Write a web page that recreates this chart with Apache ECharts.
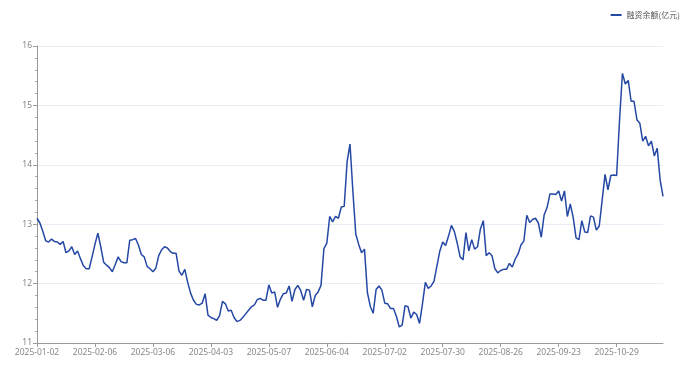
<!DOCTYPE html>
<html>
<head>
<meta charset="utf-8">
<script src="https://cdn.jsdelivr.net/npm/echarts@6/dist/echarts.min.js"></script>
<style>
html,body{margin:0;padding:0;background:#fff;}
#chart{width:691px;height:370px;}
</style>
</head>
<body>
<div id="chart"></div>
<script>
// Market-closed days and extra dates present in the source series
const holidays = ['2025-01-01','2025-01-28','2025-01-29','2025-01-30','2025-01-31','2025-02-03','2025-02-04',
  '2025-04-04','2025-05-01','2025-05-02','2025-05-05','2025-06-02',
  '2025-10-01','2025-10-02','2025-10-03','2025-10-06','2025-10-07','2025-10-08'];
const extraDays = ['2025-01-26','2025-05-31','2025-08-23'];
const pointCount = 217;

// 融资余额 (亿元)
const balance = [
  13.10,13.02,12.88,12.72,12.70,12.75,12.71,12.70,12.66,12.71,
  12.52,12.55,12.62,12.49,12.55,12.42,12.30,12.25,12.25,12.45,
  12.66,12.85,12.62,12.36,12.31,12.27,12.20,12.32,12.45,12.37,
  12.35,12.35,12.73,12.74,12.76,12.65,12.49,12.45,12.29,12.25,
  12.20,12.26,12.47,12.57,12.62,12.60,12.54,12.51,12.51,12.21,
  12.14,12.24,12.02,11.84,11.72,11.65,11.64,11.67,11.83,11.47,
  11.43,11.41,11.38,11.46,11.70,11.66,11.54,11.55,11.43,11.36,
  11.38,11.43,11.49,11.55,11.61,11.64,11.73,11.75,11.72,11.72,
  11.98,11.84,11.86,11.60,11.74,11.83,11.84,11.96,11.70,11.90,
  11.97,11.88,11.72,11.90,11.89,11.61,11.80,11.86,11.97,12.59,
  12.68,13.13,13.04,13.13,13.10,13.29,13.30,14.05,14.35,13.55,
  12.83,12.66,12.52,12.58,11.85,11.62,11.50,11.90,11.96,11.89,
  11.67,11.66,11.58,11.58,11.45,11.27,11.30,11.63,11.61,11.42,
  11.52,11.48,11.33,11.66,12.02,11.92,11.96,12.04,12.30,12.55,
  12.70,12.64,12.80,12.98,12.88,12.68,12.45,12.40,12.86,12.55,
  12.74,12.58,12.62,12.92,13.06,12.47,12.52,12.47,12.25,12.18,
  12.22,12.24,12.24,12.34,12.28,12.41,12.50,12.65,12.72,13.15,
  13.03,13.08,13.10,13.02,12.78,13.16,13.28,13.51,13.51,13.50,
  13.56,13.39,13.56,13.13,13.34,13.12,12.77,12.74,13.06,12.87,
  12.86,13.14,13.12,12.90,12.97,13.40,13.84,13.58,13.82,13.83,
  13.82,14.75,15.54,15.36,15.42,15.07,15.07,14.76,14.70,14.40,
  14.48,14.32,14.40,14.15,14.28,13.75,13.47
];

function pad(n){return n<10?'0'+n:''+n;}
function buildDates(){
  const out=[];
  const d=new Date(Date.UTC(2025,0,2));
  while(out.length<pointCount){
    const s=d.getUTCFullYear()+'-'+pad(d.getUTCMonth()+1)+'-'+pad(d.getUTCDate());
    const wd=d.getUTCDay();
    if(extraDays.includes(s) || (wd!==0 && wd!==6 && !holidays.includes(s))) out.push(s);
    d.setUTCDate(d.getUTCDate()+1);
  }
  return out;
}
const dates = buildDates();

const chart = echarts.init(document.getElementById('chart'), null, {renderer:'canvas'});
chart.setOption({
  animation:false,
  backgroundColor:'#fff',
  legend:{
    right:6, top:6,
    icon:'rect',
    itemWidth:11, itemHeight:2, itemGap:6,
    textStyle:{fontSize:8, color:'#555', fontFamily:'"Noto Sans CJK SC", sans-serif'},
    data:['融资余额(亿元)']
  },
  grid:{left:37, right:28, top:46, bottom:27, containLabel:false},
  xAxis:{
    type:'category',
    boundaryGap:false,
    data:dates,
    axisLine:{lineStyle:{color:'#9a9a9a'}},
    axisTick:{show:true, interval:19, length:4, lineStyle:{color:'#9a9a9a'}},
    axisLabel:{interval:19, fontSize:8.5, color:'#888', margin:5, fontFamily:'"Noto Sans", sans-serif', hideOverlap:false},
    splitLine:{show:false}
  },
  yAxis:{
    type:'value',
    min:11, max:16, interval:1,
    axisLine:{show:true, lineStyle:{color:'#9a9a9a'}},
    axisTick:{show:true, length:4, lineStyle:{color:'#9a9a9a'}},
    minorTick:{show:true, splitNumber:5, length:2, lineStyle:{color:'#aaa'}},
    axisLabel:{fontSize:8.5, color:'#888', margin:5, fontFamily:'"Noto Sans", sans-serif'},
    splitLine:{show:true, lineStyle:{color:'#E8ECF4'}}
  },
  series:[{
    name:'融资余额(亿元)',
    type:'line',
    data:balance,
    symbol:'none',
    showSymbol:false,
    lineStyle:{color:'#2448A4', width:1.5},
    itemStyle:{color:'#2448A4'}
  }]
});
</script>
</body>
</html>
